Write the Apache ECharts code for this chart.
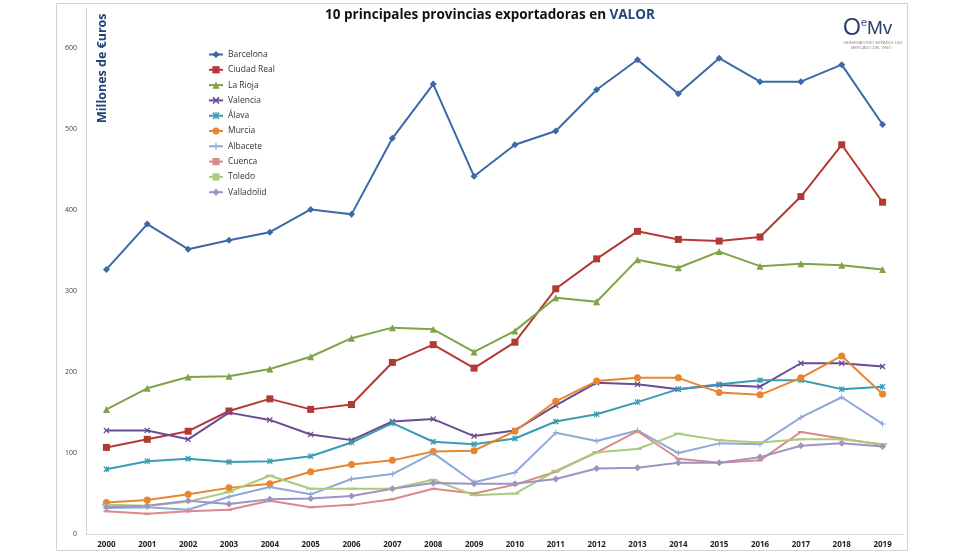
<!DOCTYPE html>
<html>
<head>
<meta charset="utf-8">
<script src="https://cdn.jsdelivr.net/npm/echarts@6/dist/echarts.min.js"></script>
<style>html,body{margin:0;padding:0;background:#fff;}#c{width:980px;height:560px;}</style>
</head>
<body>
<div id="c"></div>
<script>
var years = ['2000','2001','2002','2003','2004','2005','2006','2007','2008','2009','2010','2011','2012','2013','2014','2015','2016','2017','2018','2019'];
var yTicks = [0,100,200,300,400,500,600];
var names = ['Barcelona','Ciudad Real','La Rioja','Valencia','Álava','Murcia','Albacete','Cuenca','Toledo','Valladolid'];
var barcelona  = [327,383,352,363,373,401,395,489,556,442,481,498,549,586,544,588,559,559,580,506];
var ciudadReal = [107,117,127,152,167,154,160,212,234,205,237,303,340,374,364,362,367,417,481,410];
var laRioja    = [154,180,194,195,204,219,242,255,253,225,251,292,287,339,329,349,331,334,332,327];
var valencia   = [128,128,117,150,141,123,116,139,142,121,128,159,187,185,179,184,182,211,211,207];
var alava      = [80,90,93,89,90,96,113,137,114,111,118,139,148,163,179,185,190,190,179,182];
var murcia     = [39,42,49,57,62,77,86,91,102,103,127,164,189,193,193,175,172,193,220,173];
var albacete   = [32,33,30,46,58,49,68,74,100,64,76,125,115,128,100,112,111,144,169,136];
var cuenca     = [28,25,28,30,41,33,36,43,56,50,61,77,101,127,93,88,91,126,118,110];
var toledo     = [36,35,40,52,72,56,56,56,67,48,50,78,101,105,124,116,113,117,117,111];
var valladolid = [33,35,41,37,43,44,47,56,63,62,62,68,81,82,88,88,95,109,112,108];
var seriesData = [barcelona,ciudadReal,laRioja,valencia,alava,murcia,albacete,cuenca,toledo,valladolid];

var colors = ['#3b69a8','#b33a34','#7fa346','#6a4c92','#3a9cb4','#e8852f','#8ea8d8','#d98a8c','#aacb7b','#9f92c4'];
var xPath = 'path://M0,1.5L1.5,0L5,3.5L8.5,0L10,1.5L6.5,5L10,8.5L8.5,10L5,6.5L1.5,10L0,8.5L3.5,5Z';
var starPath = 'path://M0,1.5L1.5,0L5,3.5L8.5,0L10,1.5L6.5,5L10,8.5L8.5,10L5,6.5L1.5,10L0,8.5L3.5,5Z M4.3,0H5.7V10H4.3Z';
var plusPath = 'path://M4.2,0H5.8V4.2H10V5.8H5.8V10H4.2V5.8H0V4.2H4.2Z';
var symbols = ['diamond','rect','triangle',xPath,starPath,'circle',plusPath,'rect','rect','diamond'];
var sizes = [7,7,7,6,6,7,6,[6,2],[9,2],7];

var series = names.map(function(n,i){
  return {
    name:n, type:'line', data:seriesData[i],
    symbol:symbols[i], symbolSize:sizes[i], showSymbol:true,
    lineStyle:{width:2,color:colors[i]},
    itemStyle:{color:colors[i]},
    emphasis:{disabled:true}, animation:false
  };
});

var chart = echarts.init(document.getElementById('c'),null,{renderer:'canvas'});
chart.setOption({
  animation:false,
  color:colors,
  grid:{left:86,right:77,top:8,bottom:26,containLabel:false},
  title:{show:false},
  legend:{
    orient:'vertical', left:203, top:45, itemWidth:14, itemHeight:9, itemGap:6.3,
    textStyle:{fontSize:8.5,color:'#333',fontFamily:'Open Sans'},
    data:names
  },
  xAxis:{
    type:'category', data:years, boundaryGap:true,
    axisLine:{lineStyle:{color:'#d9d9d9',width:1}},
    axisTick:{show:false},
    axisLabel:{fontSize:8,fontWeight:'bold',color:'#222',margin:7,fontFamily:'Open Sans'}
  },
  yAxis:{
    type:'value', min:0, max:650, interval:100,
    axisLine:{show:true,lineStyle:{color:'#d0d0d0',width:1}},
    axisTick:{show:false},
    splitLine:{show:false},
    axisLabel:{fontSize:7,color:'#444',margin:9,showMaxLabel:false,fontFamily:'Open Sans',
      formatter:function(v){return yTicks.indexOf(v)>=0?String(v):'';}}
  },
  graphic:[
    {type:'rect',shape:{x:56.5,y:3.5,width:851,height:547},style:{fill:'none',stroke:'#d4d4d4',lineWidth:1},z:-1},
    {type:'text',left:'center',top:8,style:{
      text:'{a|10 principales provincias exportadoras en }{b|VALOR}',
      rich:{a:{fontSize:13.5,fontWeight:'bold',fill:'#111',fontFamily:'Open Sans'},
            b:{fontSize:13.5,fontWeight:'bold',fill:'#23477e',fontFamily:'Open Sans'}}}},
    {type:'text',x:96,y:123,rotation:Math.PI/2,style:{
      text:'Millones de €uros',fontSize:12.5,fontWeight:'bold',fill:'#1f4478',fontFamily:'Open Sans'}},
    {type:'text',x:843,y:17,style:{
      text:'{o|O}{e|e}{m|Mv}',
      rich:{o:{fontSize:23,fill:'#2b3f6b',fontFamily:'Liberation Sans'},
            e:{fontSize:11,fill:'#2b3f6b',fontFamily:'Liberation Sans',verticalAlign:'top',padding:[0,0,8,0]},
            m:{fontSize:19,fill:'#2b3f6b',fontFamily:'Liberation Sans'}}}},
    {type:'text',x:843,y:41,style:{text:'OBSERVATORIO ESPAÑOL DEL',fontSize:4,fill:'#888',fontFamily:'Liberation Sans'}},
    {type:'text',x:851,y:46,style:{text:'MERCADO DEL VINO',fontSize:4,fill:'#888',fontFamily:'Liberation Sans'}}
  ],
  series:series
});
</script>
</body>
</html>
